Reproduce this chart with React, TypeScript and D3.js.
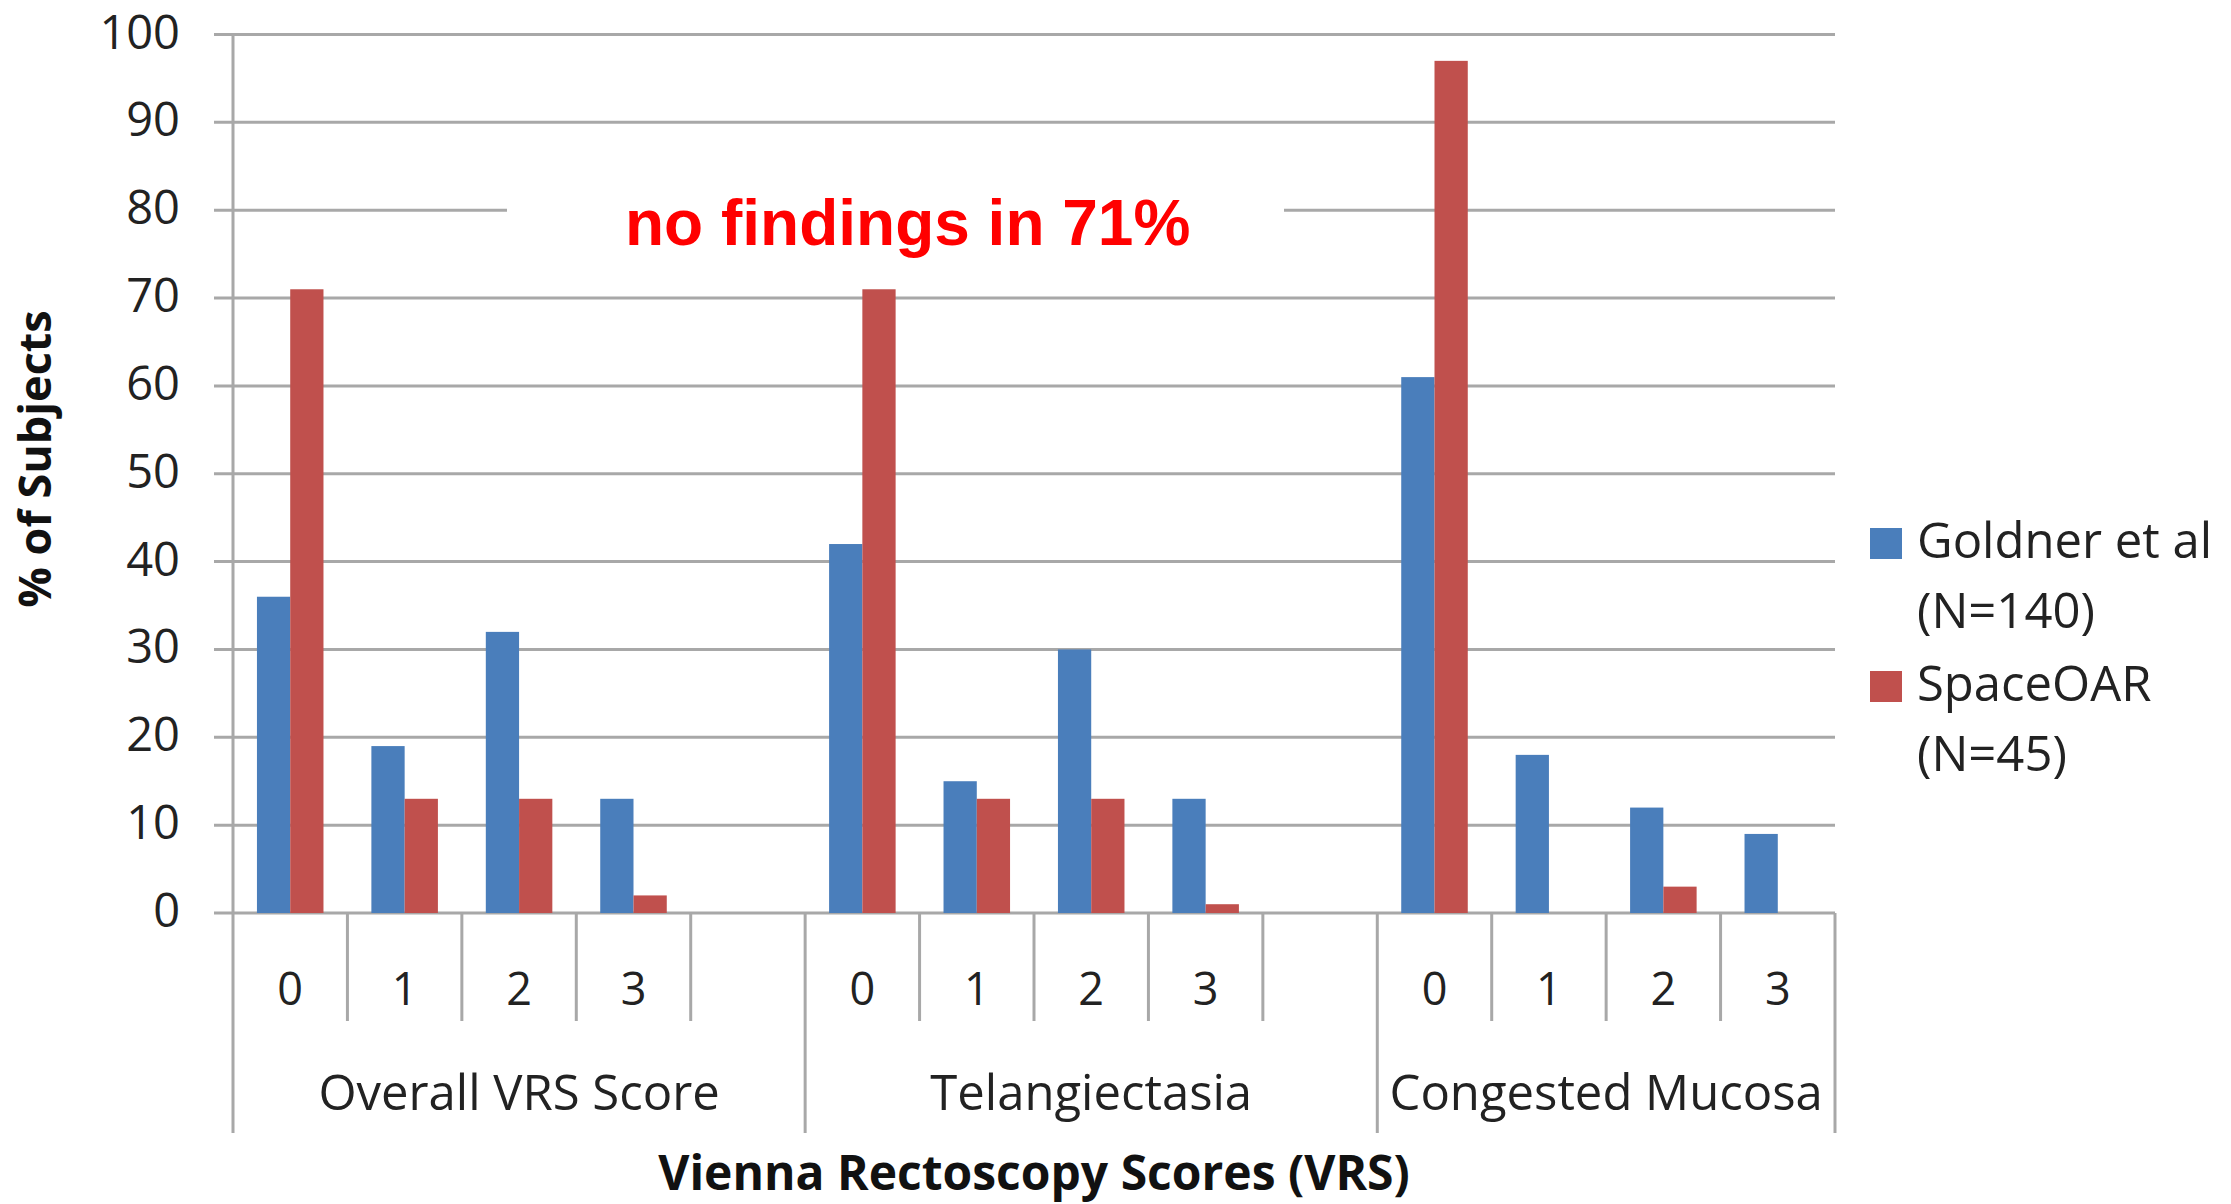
import React, { useEffect, useRef } from 'react';
import * as d3 from 'd3';

// chart data
const groups = ["Overall VRS Score", "Telangiectasia", "Congested Mucosa"];
const scores = ["0", "1", "2", "3"];
const goldner = [36, 19, 32, 13, 42, 15, 30, 13, 61, 18, 12, 9];
const spaceOar = [71, 13, 13, 2, 71, 13, 13, 1, 97, 0, 3, 0];
const seriesNames = ["Goldner et al", "SpaceOAR"];
const seriesSizes = ["(N=140)", "(N=45)"];
const yTicks = [0, 10, 20, 30, 40, 50, 60, 70, 80, 90, 100];
const note = "no findings in 71%";

const colors = ["#4a7ebb", "#c0504d"];
const gridColor = "#a8a8a8";
const textColor = "#222";
const font = "'Open Sans', sans-serif";

export default function App() {
  const chartRef = useRef<SVGSVGElement>(null);

  useEffect(() => {
    if (!chartRef.current) return;
    const svg = d3.select(chartRef.current);
    svg.selectAll("*").remove();

    const left = 233;
    const right = 1835;
    const top = 34.5;
    const bottom = 913;
    const sepShort = 1021;
    const sepLong = 1133;

    // one slot per score, plus an empty slot after the first two groups
    const slots: string[] = [];
    groups.forEach((g, gi) => {
      scores.forEach(s => slots.push(`${gi}-${s}`));
      if (gi < groups.length - 1) slots.push(`${gi}-gap`);
    });

    const x = d3.scaleBand<string>().domain(slots).range([left, right]).padding(0);
    const bw = x.bandwidth();
    const xSub = d3.scaleBand<string>()
      .domain(["goldner", "spaceoar"])
      .range([0, bw])
      .paddingInner(0)
      .paddingOuter(0.72);
    const y = d3.scaleLinear().domain([0, 100]).range([bottom, top]);

    // gridlines (they poke out left of the axis as tick marks)
    svg.append("g")
      .selectAll("line")
      .data(yTicks)
      .enter()
      .append("line")
      .attr("x1", left - 19)
      .attr("x2", right)
      .attr("y1", d => y(d))
      .attr("y2", d => y(d))
      .attr("stroke", gridColor)
      .attr("stroke-width", 3);

    // white box behind the annotation
    svg.append("rect")
      .attr("x", 507)
      .attr("y", y(80) - 28)
      .attr("width", 1284 - 507)
      .attr("height", 56)
      .attr("fill", "#fff");

    svg.append("text")
      .attr("x", 625)
      .attr("y", 245)
      .attr("fill", "#ff0000")
      .style("font-family", "'Liberation Sans', Arial, sans-serif")
      .style("font-weight", "bold")
      .style("font-size", "64px")
      .text(note);

    // bars
    const rows = groups.flatMap((g, gi) =>
      scores.map((s, si) => ({
        slot: `${gi}-${s}`,
        goldner: goldner[gi * scores.length + si],
        spaceoar: spaceOar[gi * scores.length + si],
      }))
    );
    (["goldner", "spaceoar"] as const).forEach((key, k) => {
      svg.append("g")
        .selectAll("rect")
        .data(rows.filter(r => r[key] > 0))
        .enter()
        .append("rect")
        .attr("x", d => (x(d.slot) ?? 0) + (xSub(key) ?? 0))
        .attr("width", xSub.bandwidth())
        .attr("y", d => y(d[key]))
        .attr("height", d => y(0) - y(d[key]))
        .attr("fill", colors[k]);
    });

    // axis lines and category separators
    const groupStart = (gi: number) => x(`${gi}-0`) ?? 0;
    const groupEnd = (gi: number) =>
      gi < groups.length - 1 ? (x(`${gi}-gap`) ?? 0) + bw : (x(`${gi}-3`) ?? 0) + bw;

    svg.append("line")
      .attr("x1", left).attr("x2", left)
      .attr("y1", top).attr("y2", sepLong)
      .attr("stroke", gridColor).attr("stroke-width", 3);

    const longSeps = groups.map((g, gi) => groupEnd(gi));
    svg.append("g")
      .selectAll("line")
      .data(longSeps)
      .enter()
      .append("line")
      .attr("x1", d => d).attr("x2", d => d)
      .attr("y1", bottom).attr("y2", sepLong)
      .attr("stroke", gridColor).attr("stroke-width", 3);

    const shortSeps = slots
      .map(s => (x(s) ?? 0) + bw)
      .filter(v => !longSeps.some(l => Math.abs(l - v) < 1));
    svg.append("g")
      .selectAll("line")
      .data(shortSeps)
      .enter()
      .append("line")
      .attr("x1", d => d).attr("x2", d => d)
      .attr("y1", bottom).attr("y2", sepShort)
      .attr("stroke", gridColor).attr("stroke-width", 3);

    // y tick labels
    svg.append("g")
      .selectAll("text")
      .data(yTicks)
      .enter()
      .append("text")
      .attr("x", 180)
      .attr("y", d => y(d) + 14)
      .attr("text-anchor", "end")
      .attr("fill", textColor)
      .style("font-family", font)
      .style("font-size", "47px")
      .text(d => d);

    // score labels
    svg.append("g")
      .selectAll("text")
      .data(rows)
      .enter()
      .append("text")
      .attr("x", d => (x(d.slot) ?? 0) + bw / 2)
      .attr("y", 1005)
      .attr("text-anchor", "middle")
      .attr("fill", textColor)
      .style("font-family", font)
      .style("font-size", "45px")
      .text(d => d.slot.split("-")[1]);

    // group labels
    svg.append("g")
      .selectAll("text")
      .data(groups)
      .enter()
      .append("text")
      .attr("x", (d, gi) => (groupStart(gi) + groupEnd(gi)) / 2)
      .attr("y", 1110)
      .attr("text-anchor", "middle")
      .attr("fill", textColor)
      .style("font-family", font)
      .style("font-size", "49px")
      .text(d => d);

    // axis titles
    svg.append("text")
      .attr("x", (left + right) / 2)
      .attr("y", 1190)
      .attr("text-anchor", "middle")
      .attr("fill", "#111")
      .style("font-family", font)
      .style("font-weight", "bold")
      .style("font-size", "48px")
      .text("Vienna Rectoscopy Scores (VRS)");

    svg.append("text")
      .attr("transform", "translate(51, 459) rotate(-90)")
      .attr("text-anchor", "middle")
      .attr("fill", "#111")
      .style("font-family", font)
      .style("font-weight", "bold")
      .style("font-size", "45px")
      .text("% of Subjects");

    // legend
    const legend = svg.append("g").attr("transform", "translate(1870, 528)");
    seriesNames.forEach((name, i) => {
      const row = legend.append("g").attr("transform", `translate(0, ${i * 143})`);
      row.append("rect")
        .attr("width", 32)
        .attr("height", 31)
        .attr("fill", colors[i]);
      row.append("text")
        .attr("x", 47)
        .attr("y", 30)
        .attr("fill", textColor)
        .style("font-family", font)
        .style("font-size", "49px")
        .text(name);
      row.append("text")
        .attr("x", 47)
        .attr("y", 100)
        .attr("fill", textColor)
        .style("font-family", font)
        .style("font-size", "49px")
        .text(seriesSizes[i]);
    });
  }, []);

  return (
    <svg
      ref={chartRef}
      width={2231}
      height={1204}
      style={{ position: "absolute", left: 0, top: 0, background: "#fff" }}
    />
  );
}
